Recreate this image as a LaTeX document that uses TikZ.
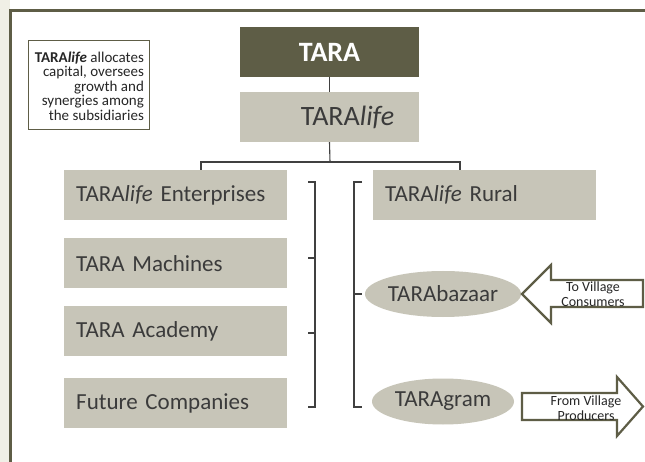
\documentclass[tikz,border=0pt]{standalone}
\usepackage{fontspec}
\setmainfont{Carlito}
\usetikzlibrary{shapes.geometric}
\definecolor{olive}{HTML}{5E5D46}
\definecolor{boxfill}{HTML}{C7C5B8}
\definecolor{txt}{HTML}{3B3B3B}
\definecolor{paper}{HTML}{F0EFE6}
\definecolor{conn}{HTML}{404040}
\begin{document}
\begin{tikzpicture}[x=1pt,y=-1pt,
  topbox/.style={inner sep=0pt, minimum width=179pt, minimum height=50pt},
  subbox/.style={fill=boxfill, text=txt, anchor=north west, inner xsep=12pt, inner ysep=0pt,
    minimum height=50pt, text width=199pt, align=left, font=\fontsize{23}{26}\selectfont},
  oval/.style={ellipse, fill=boxfill, text=txt, inner sep=0pt, minimum width=142pt,
    minimum height=46pt, font=\fontsize{23}{26}\selectfont},
  conline/.style={draw=conn, line width=1.1pt},
  flowarrow/.style={draw=olive, fill=white, line width=2.2pt, line join=miter},
  arrowtext/.style={text=black!85, align=center, inner sep=0pt, font=\fontsize{14}{15}\selectfont}
]
\useasboundingbox (0,0) rectangle (645,462);
\fill[white] (0,0) rectangle (645,462);
\fill[paper] (0,0) rectangle (9.5,462);
\draw[olive, line width=2.7pt] (645,10.3) -- (10.7,10.3) -- (10.7,462);

% note box
\node[draw=olive, line width=1.1pt, fill=white, minimum width=121pt, minimum height=89pt,
  inner sep=0pt, anchor=north west] (notebox) at (28,40) {};
\node[anchor=east, align=right, text=black!85, inner sep=0pt,
  font=\fontsize{15}{14.5}\selectfont] (notetext) at ([xshift=-6pt,yshift=-1pt]notebox.east)
  {\textbf{TARA\textit{life}} allocates\\ capital, oversees\\ growth and\\ synergies among\\ the subsidiaries};

% top boxes
\node[topbox, fill=olive, text=white, font=\bfseries\fontsize{28}{30}\selectfont] (tara) at (329.5,52) {TARA};
\node[topbox, fill=boxfill, text=txt, font=\fontsize{28}{30}\selectfont] (taralife) at (329.5,117) {\hspace*{36pt}TARA\textit{life}};
\draw[conline] (tara.south) -- (taralife.north);

% left column
\node[subbox] (ent) at (64,170) {TARA\textit{life} Enterprises};
\node[subbox] (mach) at (64,238) {TARA Machines};
\node[subbox] (acad) at (64,306) {TARA Academy};
\node[subbox] (fut) at (64,378) {Future Companies};

% right column
\node[subbox] (rural) at (373,170) {TARA\textit{life} Rural};
\node[oval] (bazaar) at (443,294) {TARAbazaar};
\node[oval] (gram) at (443,401.5) {TARAgram};

% tree connector
\coordinate (hub) at (330,162);
\coordinate (bl) at (201,170);
\coordinate (br) at (460,170);
\draw[conline] (taralife.south) -- (hub);
\draw[conline] (bl) |- (hub) -| (br);

% brackets
\draw[conline] (308,182) -- (315,182) -- (315,407) -- (308,407);
\draw[conline] (308,258) -- (315,258);
\draw[conline] (308,333) -- (315,333);
\draw[conline] (362,182) -- (354,182) -- (354,407) -- (362,407);
\draw[conline] (354,294) -- (362,294);

% flow arrows
\draw[flowarrow] (522,294) -- (551,265) -- (551,280) -- (643,280) -- (643,307) -- (551,307) -- (551,323) -- cycle;
\node[arrowtext] (tocons) at (593,294) {To Village\\Consumers};
\draw[flowarrow] (522,393) -- (617,393) -- (617,377) -- (643,406.5) -- (617,436) -- (617,420) -- (522,420) -- cycle;
\node[arrowtext] (fromprod) at (586,408) {From Village\\Producers};
\end{tikzpicture}
\end{document}
